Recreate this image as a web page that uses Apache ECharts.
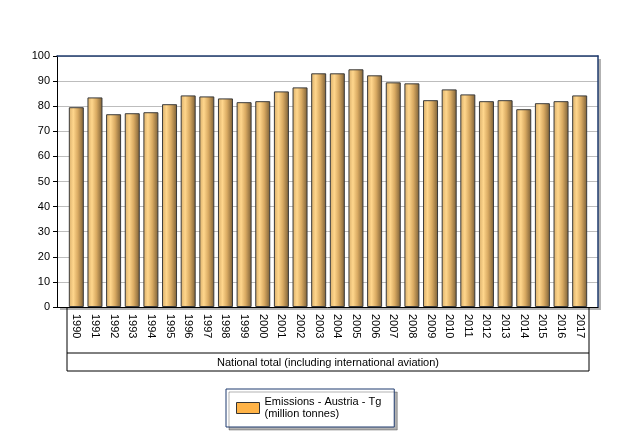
<!DOCTYPE html>
<html>
<head>
<meta charset="utf-8">
<script src="https://cdn.jsdelivr.net/npm/echarts@6/dist/echarts.min.js"></script>
<style>html,body{margin:0;padding:0;background:#fff}#c{width:618px;height:440px}</style>
</head>
<body>
<div id="c"></div>
<script>
const years = ['1990','1991','1992','1993','1994','1995','1996','1997','1998','1999','2000','2001','2002','2003','2004','2005','2006','2007','2008','2009','2010','2011','2012','2013','2014','2015','2016','2017'];
const emissions = [79.6,83.5,76.8,77.2,77.6,80.8,84.3,83.9,83.1,81.6,82.0,85.9,87.5,93.1,93.1,94.7,92.3,89.5,89.1,82.4,86.7,84.7,82.0,82.4,78.8,81.2,82.0,84.3];
const yTicks = [0,10,20,30,40,50,60,70,80,90,100];
const seriesName = 'Emissions - Austria - Tg\n(million tonnes)';
const groupLabel = 'National total (including international aviation)';

const FONT = 'Liberation Sans';
const NAVY = '#1f3b6e';
const plot = {left: 57, top: 56, width: 541, height: 251};
const cat = {left: 67, width: 522};
const tableBottom = 371, tableMid = 353;
const chart = echarts.init(document.getElementById('c'));
const line = (x1,y1,x2,y2) => ({type:'line', shape:{x1,y1,x2,y2}, style:{stroke:'#000', lineWidth:1}, z:10});
chart.setOption({
  animation: false,
  backgroundColor: '#fff',
  grid: [
    {left: plot.left, top: plot.top, width: plot.width, height: plot.height, show: true,
     backgroundColor: '#fff', borderWidth: 0,
     shadowColor: 'rgba(0,0,0,0.3)', shadowOffsetX: 3, shadowOffsetY: 3, shadowBlur: 0},
    {left: cat.left, top: plot.top, width: cat.width, height: plot.height}
  ],
  xAxis: [
    {gridIndex: 0, type: 'value', min: 0, max: 1, axisLabel: {show: false}, axisTick: {show: false},
     splitLine: {show: false}, axisLine: {show: true, onZero: false, lineStyle: {color: '#000', width: 1}}},
    {gridIndex: 0, type: 'value', position: 'top', min: 0, max: 1, axisLabel: {show: false}, axisTick: {show: false},
     splitLine: {show: false}, axisLine: {show: true, onZero: false, lineStyle: {color: NAVY, width: 1.5}}},
    {gridIndex: 1, type: 'category', data: years, axisLine: {show: false}, axisTick: {show: false},
     axisLabel: {rotate: -90, margin: 7, color: '#000', fontFamily: FONT, fontSize: 11, interval: 0},
     name: groupLabel, nameLocation: 'middle', nameGap: 50,
     nameTextStyle: {color: '#000', fontFamily: FONT, fontSize: 11}}
  ],
  yAxis: [
    {gridIndex: 0, type: 'value', min: 0, max: 100, interval: 10,
     axisLine: {show: true, onZero: false, lineStyle: {color: '#000'}},
     axisTick: {show: true, length: 4, lineStyle: {color: '#000'}},
     axisLabel: {color: '#000', fontFamily: FONT, fontSize: 11, margin: 7,
       formatter: v => yTicks.includes(v) ? String(v) : ''},
     splitLine: {show: true, lineStyle: {color: '#bdbdbd', width: 1}}},
    {gridIndex: 0, type: 'value', position: 'right', min: 0, max: 100, interval: 10,
     axisLine: {show: true, onZero: false, lineStyle: {color: NAVY, width: 1.5}}, axisTick: {show: false},
     axisLabel: {show: false}, splitLine: {show: false}},
    {gridIndex: 1, type: 'value', min: 0, max: 100, interval: 10, show: false}
  ],
  legend: {
    left: 226, top: 389, orient: 'vertical', padding: [7, 13, 7, 10],
    borderColor: NAVY, borderWidth: 1, backgroundColor: '#fff',
    shadowColor: 'rgba(0,0,0,0.3)', shadowOffsetX: 3, shadowOffsetY: 3, shadowBlur: 0,
    icon: 'rect', itemWidth: 23, itemHeight: 11, itemGap: 4,
    textStyle: {color: '#000', fontFamily: FONT, fontSize: 11, lineHeight: 12},
    data: [{name: seriesName, itemStyle: {color: '#ffb347', borderColor: '#333', borderWidth: 1}}]
  },
  series: [{
    name: seriesName, type: 'bar', xAxisIndex: 2, yAxisIndex: 2, data: emissions, barWidth: 15,
    itemStyle: {
      borderColor: '#3a3a3a', borderWidth: 1,
      color: new echarts.graphic.LinearGradient(0,0,1,0,[
        {offset:0, color:'#d8ae6a'},{offset:0.3, color:'#ffd68c'},{offset:0.6, color:'#d9aa62'},{offset:1, color:'#7a5e35'}])
    }
  }],
  graphic: [
    line(cat.left, plot.top+plot.height, cat.left, tableBottom),
    line(cat.left+cat.width, plot.top+plot.height, cat.left+cat.width, tableBottom),
    line(cat.left, tableMid, cat.left+cat.width, tableMid),
    line(cat.left, tableBottom, cat.left+cat.width, tableBottom)
  ]
});
</script>
</body>
</html>
